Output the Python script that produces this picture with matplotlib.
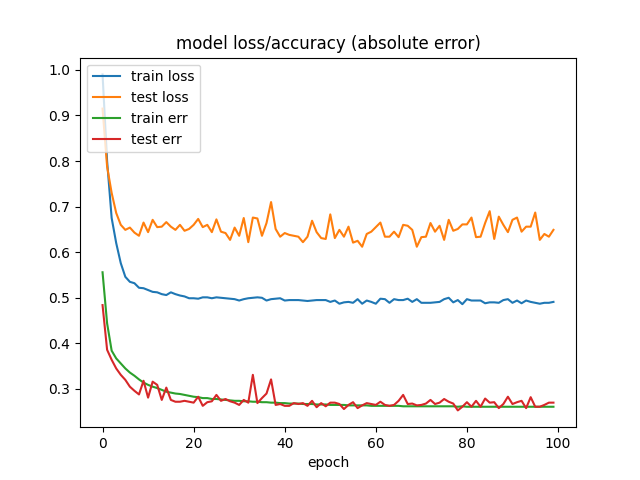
import matplotlib
matplotlib.use("Agg")
import matplotlib.pyplot as plt

# values, one per epoch
train_loss = [
    0.990, 0.800, 0.675, 0.620, 0.576, 0.546, 0.535, 0.532, 0.522, 0.521,
    0.517, 0.513, 0.512, 0.508, 0.506, 0.512, 0.508, 0.505, 0.503, 0.499,
    0.499, 0.498, 0.501, 0.501, 0.499, 0.501, 0.500, 0.499, 0.498, 0.497,
    0.494, 0.497, 0.499, 0.500, 0.501, 0.500, 0.494, 0.497, 0.498, 0.499,
    0.494, 0.495, 0.495, 0.495, 0.494, 0.493, 0.494, 0.495, 0.495, 0.495,
    0.491, 0.494, 0.487, 0.490, 0.491, 0.489, 0.497, 0.487, 0.494, 0.491,
    0.487, 0.498, 0.497, 0.489, 0.497, 0.495, 0.495, 0.498, 0.491, 0.497,
    0.489, 0.489, 0.489, 0.490, 0.491, 0.497, 0.500, 0.490, 0.495, 0.486,
    0.497, 0.494, 0.494, 0.494, 0.488, 0.490, 0.490, 0.489, 0.495, 0.497,
    0.489, 0.494, 0.488, 0.494, 0.491, 0.489, 0.487, 0.489, 0.489, 0.491,
]

test_loss = [
    0.915, 0.788, 0.730, 0.686, 0.660, 0.649, 0.654, 0.643, 0.636, 0.665,
    0.644, 0.671, 0.655, 0.656, 0.666, 0.656, 0.649, 0.660, 0.647, 0.651,
    0.660, 0.673, 0.655, 0.660, 0.644, 0.672, 0.645, 0.642, 0.627, 0.654,
    0.636, 0.675, 0.622, 0.676, 0.674, 0.636, 0.664, 0.710, 0.651, 0.634,
    0.642, 0.638, 0.636, 0.634, 0.622, 0.634, 0.669, 0.644, 0.631, 0.629,
    0.683, 0.631, 0.649, 0.634, 0.656, 0.621, 0.625, 0.612, 0.640, 0.645,
    0.655, 0.665, 0.634, 0.634, 0.645, 0.633, 0.660, 0.658, 0.649, 0.612,
    0.633, 0.634, 0.664, 0.645, 0.658, 0.627, 0.671, 0.647, 0.651, 0.661,
    0.661, 0.676, 0.633, 0.634, 0.664, 0.690, 0.629, 0.678, 0.660, 0.644,
    0.671, 0.676, 0.645, 0.656, 0.656, 0.687, 0.627, 0.640, 0.634, 0.649,
]

train_err = [
    0.556, 0.444, 0.384, 0.367, 0.356, 0.345, 0.336, 0.329, 0.321, 0.314,
    0.309, 0.305, 0.302, 0.298, 0.294, 0.292, 0.290, 0.289, 0.287, 0.285,
    0.283, 0.282, 0.280, 0.280, 0.278, 0.278, 0.277, 0.276, 0.275, 0.274,
    0.274, 0.273, 0.273, 0.272, 0.272, 0.271, 0.271, 0.270, 0.270, 0.269,
    0.269, 0.268, 0.268, 0.268, 0.267, 0.267, 0.267, 0.266, 0.266, 0.266,
    0.265, 0.265, 0.265, 0.265, 0.264, 0.264, 0.264, 0.264, 0.264, 0.263,
    0.263, 0.263, 0.263, 0.263, 0.263, 0.263, 0.262, 0.262, 0.262, 0.262,
    0.262, 0.262, 0.262, 0.262, 0.262, 0.262, 0.262, 0.262, 0.261, 0.262,
    0.261, 0.261, 0.261, 0.261, 0.261, 0.261, 0.261, 0.261, 0.261, 0.261,
    0.261, 0.261, 0.261, 0.261, 0.261, 0.261, 0.261, 0.261, 0.261, 0.261,
]

test_err = [
    0.484, 0.386, 0.364, 0.345, 0.331, 0.320, 0.305, 0.296, 0.288, 0.318,
    0.281, 0.316, 0.309, 0.276, 0.303, 0.276, 0.272, 0.272, 0.274, 0.272,
    0.270, 0.283, 0.263, 0.271, 0.273, 0.287, 0.274, 0.278, 0.273, 0.270,
    0.265, 0.276, 0.270, 0.331, 0.269, 0.280, 0.290, 0.321, 0.265, 0.267,
    0.263, 0.263, 0.269, 0.267, 0.269, 0.263, 0.274, 0.260, 0.269, 0.262,
    0.270, 0.270, 0.267, 0.256, 0.265, 0.271, 0.258, 0.264, 0.269, 0.267,
    0.265, 0.272, 0.265, 0.263, 0.265, 0.274, 0.287, 0.267, 0.268, 0.264,
    0.265, 0.268, 0.276, 0.267, 0.270, 0.278, 0.272, 0.268, 0.253, 0.261,
    0.271, 0.261, 0.274, 0.261, 0.279, 0.270, 0.271, 0.258, 0.267, 0.283,
    0.267, 0.271, 0.274, 0.258, 0.282, 0.261, 0.261, 0.265, 0.270, 0.270,
]

plt.figure(figsize=(6.4, 4.8), dpi=100)
plt.plot(train_loss, label="train loss")
plt.plot(test_loss, label="test loss")
plt.plot(train_err, label="train err")
plt.plot(test_err, label="test err")
plt.title("model loss/accuracy (absolute error)")
plt.xlabel("epoch")
plt.legend(loc="upper left")
plt.savefig("out.png")
